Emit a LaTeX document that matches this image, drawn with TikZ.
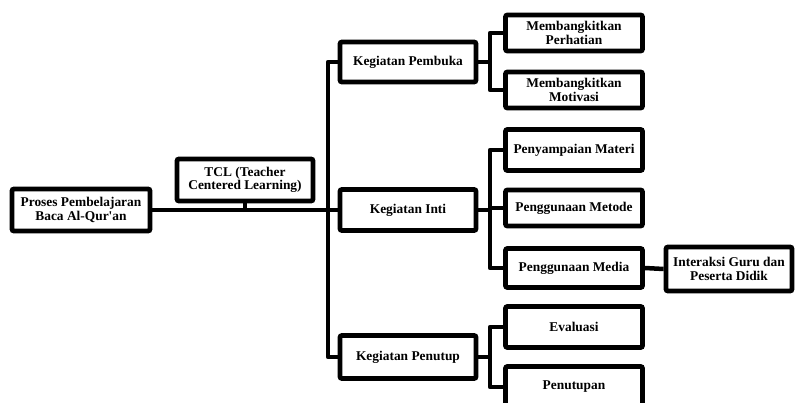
\documentclass[tikz,border=0pt]{standalone}
\usepackage{fontspec}
\setmainfont{Liberation Serif}
\begin{document}
\begin{tikzpicture}[x=1pt,y=-1pt,
  box/.style={draw=black, line width=4.8pt, rounded corners=2pt, fill=white,
    align=center, inner sep=1pt, font=\fontsize{13.4}{13.5}\selectfont\bfseries,
    minimum width=136pt},
  conn/.style={draw=black, line width=4.5pt, line join=round}]
\useasboundingbox (0,0) rectangle (795,403);
\begin{scope}
\clip (0,0) rectangle (795,403);
% coordinates for vertical trunks
\coordinate (tx) at (328,0);
\coordinate (bx) at (490,0);
% nodes
\node[box, minimum width=138pt, minimum height=42pt] (proses) at (81,210) {Proses Pembelajaran\\Baca Al-Qur\textquotesingle an};
\node[box, minimum height=42pt] (tcl) at (245,180) {TCL (Teacher\\Centered Learning)};
\node[box, minimum height=40pt] (pembuka) at (408,62) {Kegiatan Pembuka};
\node[box, minimum height=41pt] (inti) at (408,210) {Kegiatan Inti};
\node[box, minimum height=43pt] (penutup) at (408,357) {Kegiatan Penutup};
\node[box, minimum width=137pt, minimum height=36pt] (mp) at (574,33) {Membangkitkan\\Perhatian};
\node[box, minimum width=137pt, minimum height=36pt] (mm) at (574,90) {Membangkitkan\\Motivasi};
\node[box, minimum width=137pt, minimum height=41pt] (pmat) at (574,150) {Penyampaian Materi};
\node[box, minimum width=137pt, minimum height=36pt] (pmet) at (574,208) {Penggunaan Metode};
\node[box, minimum width=137pt, minimum height=39pt] (pmed) at (574,268) {Penggunaan Media};
\node[box, minimum width=126pt, minimum height=44pt] (inter) at (729,269) {Interaksi Guru dan\\Peserta Didik};
\node[box, minimum width=137pt, minimum height=41pt] (eval) at (574,327) {Evaluasi};
\node[box, minimum width=137pt, minimum height=41pt] (tutup) at (574,387) {Penutupan};
% connectors
\draw[conn] (proses.east) -- (inti.west);
\draw[conn] (tcl.south) -- (tcl.south |- proses.east);
\draw[conn] (pembuka.west) -- (tx |- pembuka.west) -- (tx |- penutup.west) -- (penutup.west);
\draw[conn] (pembuka.east) -- (bx |- pembuka.east);
\draw[conn] (mp.west) -- (bx |- mp.west) -- (bx |- mm.west) -- (mm.west);
\draw[conn] (inti.east) -- (bx |- inti.east);
\draw[conn] (pmat.west) -- (bx |- pmat.west) -- (bx |- pmed.west) -- (pmed.west);
\draw[conn] (pmet.west) -- (bx |- pmet.west);
\draw[conn] (pmed.east) -- (inter.west);
\draw[conn] (penutup.east) -- (bx |- penutup.east);
\draw[conn] (eval.west) -- (bx |- eval.west) -- (bx |- tutup.west) -- (tutup.west);
\end{scope}
\end{tikzpicture}
\end{document}
